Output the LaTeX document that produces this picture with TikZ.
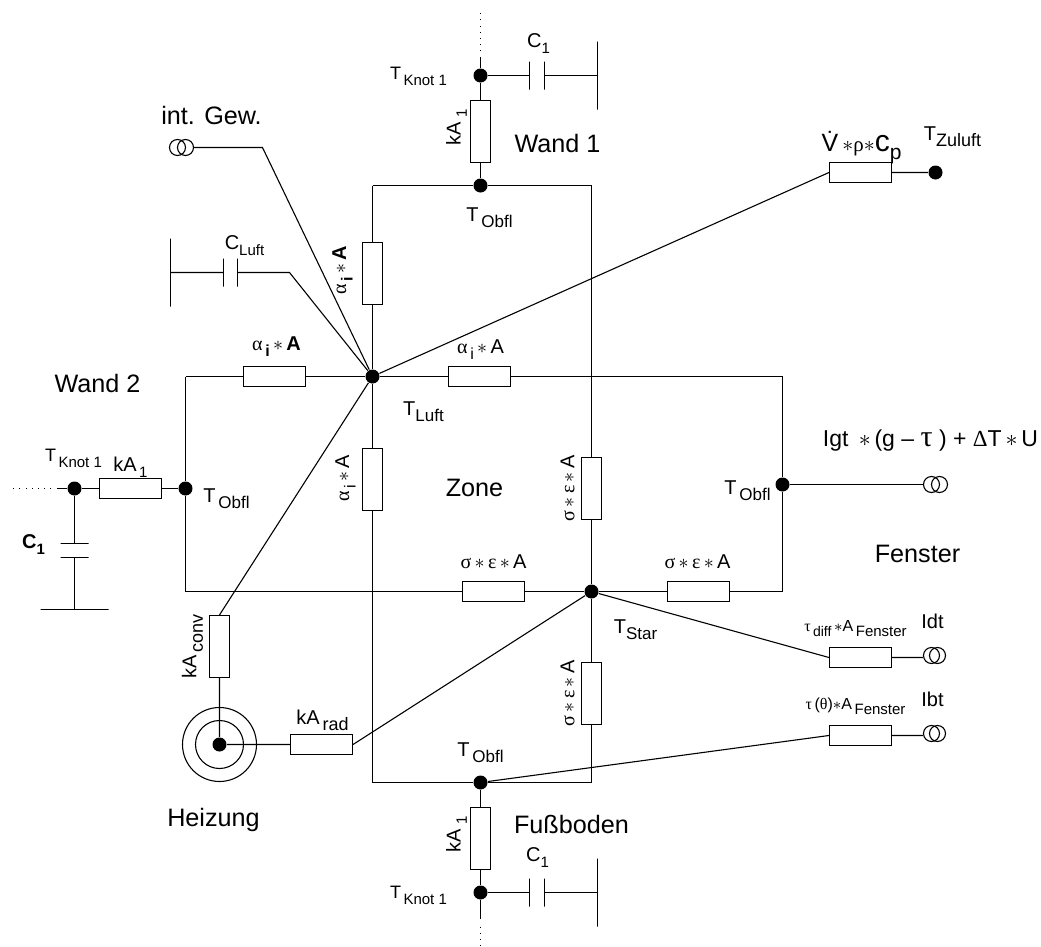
\documentclass[tikz,border=0pt]{standalone}
\usepackage{fontspec}
\setmainfont{Liberation Sans}
\newfontfamily\greekfont{Liberation Serif}
\usetikzlibrary{positioning}

\begin{document}
\begin{tikzpicture}[
  x=0.5pt,y=-0.5pt,shift={(0.5,0.5)},line width=0.55pt,
  hres/.style={rectangle,draw,fill=white,inner sep=0,minimum width=31pt,minimum height=10pt},
  vres/.style={rectangle,draw,fill=white,inner sep=0,minimum width=10pt,minimum height=31pt},
  jdot/.style={circle,fill=black,inner sep=0,minimum size=7pt},
  srcring/.style={circle,draw,inner sep=0,minimum size=8pt},
  vplate/.style={rectangle,draw,inner sep=0,minimum width=0,minimum height=14pt},
  hplate/.style={rectangle,draw,inner sep=0,minimum height=0,minimum width=14pt},
  vbar/.style={rectangle,draw,inner sep=0,minimum width=0,minimum height=34pt},
  hbar/.style={rectangle,draw,inner sep=0,minimum height=0,minimum width=34pt},
  zonetxt/.style={inner sep=0,font=\fontsize{12.6}{12.6}\selectfont},
  temptxt/.style={inner sep=0,font=\fontsize{10}{10}\selectfont},
  knottxt/.style={inner sep=0,font=\fontsize{9}{9}\selectfont},
  valtxt/.style={inner sep=0,font=\fontsize{10}{10}\selectfont},
  dotline/.style={dash pattern=on 0.5pt off 2.6pt}
  ]

\newcommand\gr[1]{{\greekfont #1}}
\newcommand\low[2]{\raisebox{-.6ex}{\fontsize{#1}{#1}\selectfont #2}}
\newcommand\starop{\,$*$\,}

% nodes
\node[jdot] (knotT) at (480,75) {};
\node[jdot] (obflT) at (480,185) {};
\node[jdot] (luft) at (372,376) {};
\node[jdot] (star) at (591,591) {};
\node[jdot] (obflW) at (185,488) {};
\node[jdot] (knotW) at (74,488) {};
\node[jdot] (obflF) at (782,484) {};
\node[jdot] (obflB) at (480,782) {};
\node[jdot] (knotB) at (480,892) {};
\node[jdot] (zuluft) at (935,172) {};

% corners
\coordinate (cornerTL) at (372,185);
\coordinate (cornerTR) at (591,185);
\coordinate (cornerBL) at (372,782);
\coordinate (cornerBR) at (591,782);
\coordinate (cornerWT) at (185,376);
\coordinate (cornerWB) at (185,591);
\coordinate (cornerFT) at (782,376);
\coordinate (cornerFB) at (782,591);
\coordinate (bendGew) at (262,147);
\coordinate (bendCap) at (289,272);

% resistors
\node[vres] (resKT) at (480,131) {};
\node[vres] (resWall) at (372,273) {};
\node[vres] (resZone) at (372,479) {};
\node[vres] (resSigR) at (591,488) {};
\node[vres] (resSigB) at (591,693) {};
\node[vres] (resKB) at (480,838) {};
\node[vres] (resConv) at (219,646) {};
\node[hres] (resAlL) at (274,376) {};
\node[hres] (resAlR) at (479,376) {};
\node[hres] (resKW) at (130,488) {};
\node[hres] (resSigL) at (493,591) {};
\node[hres] (resSigF) at (698,591) {};
\node[hres] (resRad) at (321,744) {};
\node[hres] (resZu) at (860,172) {};
\node[hres] (resDiff) at (860,657) {};
\node[hres] (resBeam) at (860,735) {};

% sources
\node[srcring] (gewA) at (177,147) {};
\node[srcring] (gewB) at (185,147) {};
\node[srcring] (igtA) at (931,484) {};
\node[srcring] (igtB) at (939,484) {};
\node[srcring] (idtA) at (931,655) {};
\node[srcring] (idtB) at (937,655) {};
\node[srcring] (ibtA) at (931,733) {};
\node[srcring] (ibtB) at (937,733) {};

% capacitors
\node[vplate] (capTa) at (529,75) {};
\node[vplate] (capTb) at (544,75) {};
\node[vbar] (barT) at (597,75) {};
\node[vplate] (capBa) at (529,892) {};
\node[vplate] (capBb) at (544,892) {};
\node[vbar] (barB) at (597,892) {};
\node[vplate] (capLa) at (223,272) {};
\node[vplate] (capLb) at (237,272) {};
\node[vbar] (barL) at (170,272) {};
\node[hplate] (capWa) at (74,543) {};
\node[hplate] (capWb) at (74,557) {};
\node[hbar] (barW) at (74,609) {};

% heater
\node[circle,draw,inner sep=0,minimum size=37pt] (heatOut) at (219,744) {};
\node[circle,draw,inner sep=0,minimum size=24pt] (heatIn) at (219,744) {};
\node[jdot] (heat) at (219,744) {};

% open ends
\coordinate (stubT) at (480,57);
\coordinate (endT) at (480,10);
\coordinate (stubB) at (480,918);
\coordinate (gapB) at (480,926);
\coordinate (endB) at (480,945);
\coordinate (stubW) at (57,488);
\coordinate (endW) at (10,488);

% wires
\draw (stubT) -- (knotT) -- (resKT) -- (obflT);
\draw[dotline] (stubT) -- (endT);
\draw (knotT) -- (capTa) (capTb) -- (barT);
\draw (cornerTL) -- (obflT) -- (cornerTR);
\draw (cornerTL) -- (resWall) -- (luft) -- (resZone) -- (cornerBL) -- (obflB) -- (cornerBR);
\draw (cornerTR) -- (resSigR) -- (star) -- (resSigB) -- (cornerBR);
\draw (cornerWT) -- (resAlL) -- (luft) -- (resAlR) -- (cornerFT) -- (obflF) -- (cornerFB) -- (resSigF) -- (star) -- (resSigL) -- (cornerWB) -- (obflW) -- (cornerWT);
\draw (obflW) -- (resKW) -- (knotW) -- (stubW);
\draw[dotline] (stubW) -- (endW);
\draw (knotW) -- (capWa) (capWb) -- (barW);
\draw (obflB) -- (resKB) -- (knotB) -- (stubB);
\draw[dotline] (gapB) -- (endB);
\draw (knotB) -- (capBa) (capBb) -- (barB);
\draw (gewB) -- (bendGew) -- (luft);
\draw (barL) -- (capLa) (capLb) -- (bendCap) -- (luft);
\draw (luft) -- (resZu.west) (resZu) -- (zuluft);
\draw (luft) -- (resConv.north) (resConv) -- (heat) -- (resRad) (resRad.east) -- (star);
\draw (obflF) -- (igtA);
\draw (star) -- (resDiff.west) (resDiff.east) -- (resDiff.east -| idtA.west);
\draw (obflB) -- (resBeam.west) (resBeam.east) -- (resBeam.east -| ibtA.west);

% names
\node[zonetxt] (lblGew) at (211,115) {int. Gew.};
\node[zonetxt] (lblW1) at (557,143) {Wand 1};
\node[zonetxt] (lblW2) at (97,383) {Wand 2};
\node[zonetxt] (lblZone) at (474,487) {Zone};
\node[zonetxt] (lblFen) at (917,553) {Fenster};
\node[zonetxt] (lblHeiz) at (213,819) {Heizung};
\node[zonetxt] (lblBoden) at (571,824) {Fußboden};

% temperatures
\node[knottxt] (lblKnotT) at (418,76) {T\low{7.5}{\,Knot 1}};
\node[knottxt] (lblKnotW) at (73,458) {T\low{7.5}{\,Knot 1}};
\node[knottxt] (lblKnotB) at (418,895) {T\low{7.5}{\,Knot 1}};
\node[temptxt] (lblObT) at (489,217) {T\low{8.5}{\,Obfl}};
\node[temptxt] (lblObW) at (226,498) {T\low{8.5}{\,Obfl}};
\node[temptxt] (lblObF) at (747,490) {T\low{8.5}{\,Obfl}};
\node[temptxt] (lblObB) at (480,752) {T\low{8.5}{\,Obfl}};
\node[temptxt] (lblLuft) at (423,411) {T\low{8.5}{Luft}};
\node[temptxt] (lblStar) at (635,629) {T\low{8.5}{Star}};
\node[temptxt] (lblZu) at (952,136) {T\low{9}{Zuluft}};

% values
\node[valtxt,rotate=90] (lblKaT) at (456,127) {kA\low{7.5}{\,\,1}};
\node[valtxt,rotate=90] (lblKaB) at (456,834) {kA\low{7.5}{\,\,1}};
\node[valtxt] (lblKaW) at (130,467) {kA\low{7.5}{\,1}};
\node[valtxt] (lblCapT) at (538,43) {C\low{7.5}{1}};
\node[valtxt] (lblCapB) at (537,857) {C\low{7.5}{1}};
\node[valtxt] (lblCapL) at (244,245) {C\low{7.5}{Luft}};
\node[valtxt,font=\fontsize{10}{10}\selectfont\bfseries] (lblCapW) at (33,544) {C\low{7.5}{1}};
\node[valtxt] (lblAlL) at (276,346) {\gr{α}\low{8}{\,\textbf{i}}\starop\textbf{A}};
\node[valtxt] (lblAlR) at (480,349) {\gr{α}\low{8}{\,i}\starop A};
\node[valtxt,rotate=90] (lblAlT) at (342,270) {\gr{α}\low{8}{\,\textbf{i}}\starop\textbf{A}};
\node[valtxt,rotate=90] (lblAlZ) at (345,478) {\gr{α}\low{8}{\,i}\starop A};
\node[valtxt] (lblSigL) at (493,561) {\gr{σ}\starop\gr{ε}\starop A};
\node[valtxt] (lblSigF) at (697,561) {\gr{σ}\starop\gr{ε}\starop A};
\node[valtxt,rotate=90] (lblSigR) at (567,488) {\gr{σ}\starop\gr{ε}\starop A};
\node[valtxt,rotate=90] (lblSigB) at (567,693) {\gr{σ}\starop\gr{ε}\starop A};
\node[valtxt] (lblRad) at (322,720) {kA\low{9}{\,rad}};
\node[valtxt,rotate=90] (lblConv) at (192,646) {kA\low{9}{\,conv}};
\node[valtxt,font=\fontsize{12.5}{12.5}\selectfont] (lblVol) at (861,147) {\.{V}\,{\fontsize{10.5}{10.5}\selectfont$*$\gr{ρ}$*$}{\fontsize{15}{15}\selectfont c}\low{10.5}{p}};
\node[valtxt,font=\fontsize{11.5}{11.5}\selectfont] (lblIgt) at (930,440) {Igt \starop(g -- {\fontsize{15}{15}\selectfont\gr{τ}} ) + {\gr{Δ}}T\starop U};
\node[valtxt] (lblIdt) at (932,621) {Idt};
\node[valtxt] (lblIbt) at (932,699) {Ibt};
\node[valtxt,font=\fontsize{8}{8}\selectfont] (lblDiff) at (855,628) {\gr{τ}\low{7}{\,diff}\,$*$A\low{7.5}{\,Fenster}};
\node[valtxt,font=\fontsize{8}{8}\selectfont] (lblBeam) at (855,706) {\gr{τ}\,(\gr{θ})$*$A\low{7.5}{\,Fenster}};

\useasboundingbox (-0.5,-0.5) rectangle (1040.5,944.5);
\end{tikzpicture}
\end{document}
